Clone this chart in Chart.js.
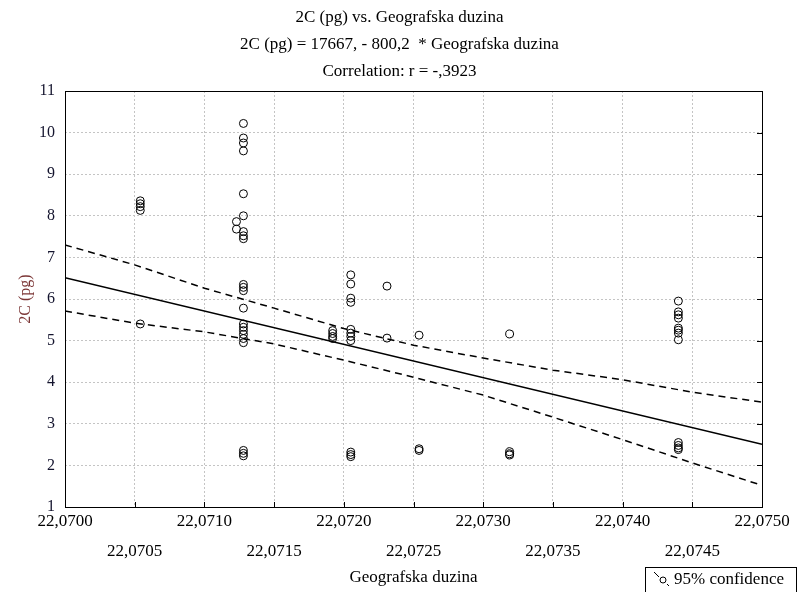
<!DOCTYPE html>
<html>
<head>
<meta charset="utf-8">
<title>2C (pg) vs. Geografska duzina</title>
<script src="https://cdn.jsdelivr.net/npm/chart.js@4.4.1/dist/chart.umd.min.js"></script>
<style>
  html, body { margin: 0; padding: 0; background: #fff; }
  #wrap { width: 799px; height: 592px; }
</style>
</head>
<body>
<div id="wrap"><canvas id="scatterChart"></canvas></div>
<script>
// Sampling sites (Geografska duzina) and the 2C values measured at each
const siteLon = [22.07054, 22.07123, 22.07128, 22.07192, 22.07205, 22.07231, 22.07254, 22.07319, 22.07440];
const siteValues = [
  [8.36, 8.29, 8.22, 8.13, 5.40],
  [7.86, 7.68],
  [10.22, 9.87, 9.75, 9.56, 8.53, 8.00, 7.62, 7.52, 7.45, 6.35, 6.28, 6.20, 5.78, 5.40, 5.32, 5.24, 5.15, 5.05, 4.95, 2.36, 2.29, 2.23],
  [5.24, 5.17, 5.10, 5.05],
  [6.58, 6.36, 6.02, 5.92, 5.27, 5.18, 5.10, 5.00, 2.32, 2.26, 2.21],
  [6.31, 5.06],
  [5.13, 2.40, 2.36],
  [5.16, 2.33, 2.28, 2.25],
  [5.95, 5.69, 5.62, 5.54, 5.30, 5.25, 5.18, 5.02, 2.55, 2.48, 2.42, 2.38]
];

// x axis ticks, every 0.0005
const xTicks = [22.0700, 22.0705, 22.0710, 22.0715, 22.0720, 22.0725, 22.0730, 22.0735, 22.0740, 22.0745, 22.0750];

// fitted line 2C = 17667 - 800,2 * x, evaluated at the axis ends
const fitX = [22.0700, 22.0750];
const fitY = [6.51, 2.51];

// 95% confidence band at each x tick
const bandUpper = [7.30, 6.82, 6.26, 5.78, 5.29, 4.89, 4.58, 4.29, 4.06, 3.76, 3.52];
const bandLower = [5.71, 5.42, 5.21, 4.92, 4.53, 4.12, 3.69, 3.16, 2.62, 2.06, 1.52];

const titleLines = ['2C (pg) vs. Geografska duzina', '2C (pg) = 17667, - 800,2  * Geografska duzina', 'Correlation: r = -,3923'];

const SERIF = "'Liberation Serif', 'DejaVu Serif', serif";

const points = [];
siteLon.forEach((lon, i) => {
  siteValues[i].forEach(v => points.push({ x: lon, y: v }));
});

const toXY = (xs, ys) => xs.map((x, i) => ({ x: x, y: ys[i] }));
const fmtLon = v => v.toFixed(4).replace('.', ',');

// three title lines, centred on the whole canvas
const titleBlock = {
  id: 'titleBlock',
  afterDraw(chart) {
    const ctx = chart.ctx;
    ctx.save();
    ctx.fillStyle = '#000';
    ctx.font = '17px ' + SERIF;
    ctx.textAlign = 'center';
    ctx.textBaseline = 'middle';
    titleLines.forEach((t, i) => ctx.fillText(t, chart.width / 2, 18 + i * 27));
    ctx.restore();
  }
};

// frame round the plot plus the short inward ticks on the bottom and right edges
const framePlugin = {
  id: 'frame',
  afterDraw(chart) {
    const { ctx, chartArea: a, scales } = chart;
    ctx.save();
    ctx.strokeStyle = '#000';
    ctx.lineWidth = 1;
    ctx.strokeRect(Math.round(a.left) + 0.5, Math.round(a.top) + 0.5,
                   Math.round(a.right - a.left), Math.round(a.bottom - a.top));
    ctx.beginPath();
    xTicks.forEach(v => {
      const px = Math.round(scales.x.getPixelForValue(v)) + 0.5;
      ctx.moveTo(px, a.bottom);
      ctx.lineTo(px, a.bottom - 5);
    });
    for (let v = 1; v <= 11; v++) {
      const py = Math.round(scales.y.getPixelForValue(v)) + 0.5;
      ctx.moveTo(a.right, py);
      ctx.lineTo(a.right - 5, py);
    }
    ctx.stroke();
    ctx.restore();
  }
};

// small legend box in the lower right corner
const legendBox = {
  id: 'legendBox',
  afterDraw(chart) {
    const ctx = chart.ctx;
    ctx.save();
    ctx.fillStyle = '#fff';
    ctx.fillRect(645, 567, 152, 30);
    ctx.strokeStyle = '#000';
    ctx.lineWidth = 1;
    ctx.strokeRect(645.5, 567.5, 151, 30);
    ctx.beginPath();
    ctx.moveTo(654, 572);
    ctx.lineTo(659, 577);
    ctx.stroke();
    ctx.beginPath();
    ctx.arc(663, 580, 3, 0, Math.PI * 2);
    ctx.stroke();
    ctx.beginPath();
    ctx.moveTo(667, 584);
    ctx.lineTo(669, 586);
    ctx.stroke();
    ctx.fillStyle = '#000';
    ctx.font = '17px ' + SERIF;
    ctx.textBaseline = 'middle';
    ctx.fillText('95% confidence', 674, 580);
    ctx.restore();
  }
};

new Chart(document.getElementById('scatterChart'), {
  type: 'scatter',
  data: {
    datasets: [
      {
        label: 'Regression',
        data: toXY(fitX, fitY),
        showLine: true,
        borderColor: '#000',
        borderWidth: 1.5,
        pointRadius: 0,
        order: 2
      },
      {
        label: '95% confidence',
        data: toXY(xTicks, bandUpper),
        showLine: true,
        borderColor: '#000',
        borderWidth: 1.5,
        borderDash: [7, 5],
        pointRadius: 0,
        order: 2
      },
      {
        label: '95% confidence (lower)',
        data: toXY(xTicks, bandLower),
        showLine: true,
        borderColor: '#000',
        borderWidth: 1.5,
        borderDash: [7, 5],
        pointRadius: 0,
        order: 2
      },
      {
        label: '2C (pg)',
        data: points,
        pointStyle: 'circle',
        pointRadius: 4,
        borderWidth: 1,
        borderColor: '#000',
        backgroundColor: 'rgba(255,255,255,0)',
        order: 1
      }
    ]
  },
  options: {
    responsive: true,
    maintainAspectRatio: false,
    animation: false,
    layout: { padding: { left: 0, right: 37, top: 91, bottom: 0 } },
    plugins: {
      legend: { display: false },
      tooltip: { enabled: false },
      title: { display: false }
    },
    scales: {
      x: {
        type: 'linear',
        min: 22.0700,
        max: 22.0750,
        afterFit(scale) { scale.height = 85; },
        afterBuildTicks(scale) { scale.ticks = xTicks.map(v => ({ value: v })); },
        grid: { color: '#c4c4c4', lineWidth: 1, drawTicks: false },
        border: { display: false, dash: [2, 2] },
        ticks: {
          color: '#000',
          padding: 0,
          maxRotation: 0,
          autoSkip: false,
          font: { family: SERIF, size: 17, lineHeight: 1.76 },
          callback: (value, index) => index % 2 === 0 ? [fmtLon(value), ''] : ['', fmtLon(value)]
        },
        title: {
          display: true,
          text: 'Geografska duzina',
          color: '#000',
          font: { family: SERIF, size: 17 },
          padding: { top: 0, bottom: 4 }
        }
      },
      y: {
        min: 1,
        max: 11,
        afterFit(scale) { scale.width = 65; },
        grid: { color: '#c4c4c4', lineWidth: 1, drawTicks: false },
        border: { display: false, dash: [2, 2] },
        ticks: {
          stepSize: 1,
          color: '#14142e',
          padding: 10,
          font: { family: SERIF, size: 16 }
        },
        title: {
          display: true,
          text: '2C (pg)',
          color: '#7b3535',
          font: { family: SERIF, size: 16 },
          padding: { top: 16, bottom: 0 }
        }
      }
    }
  },
  plugins: [framePlugin, titleBlock, legendBox]
});
</script>
</body>
</html>
